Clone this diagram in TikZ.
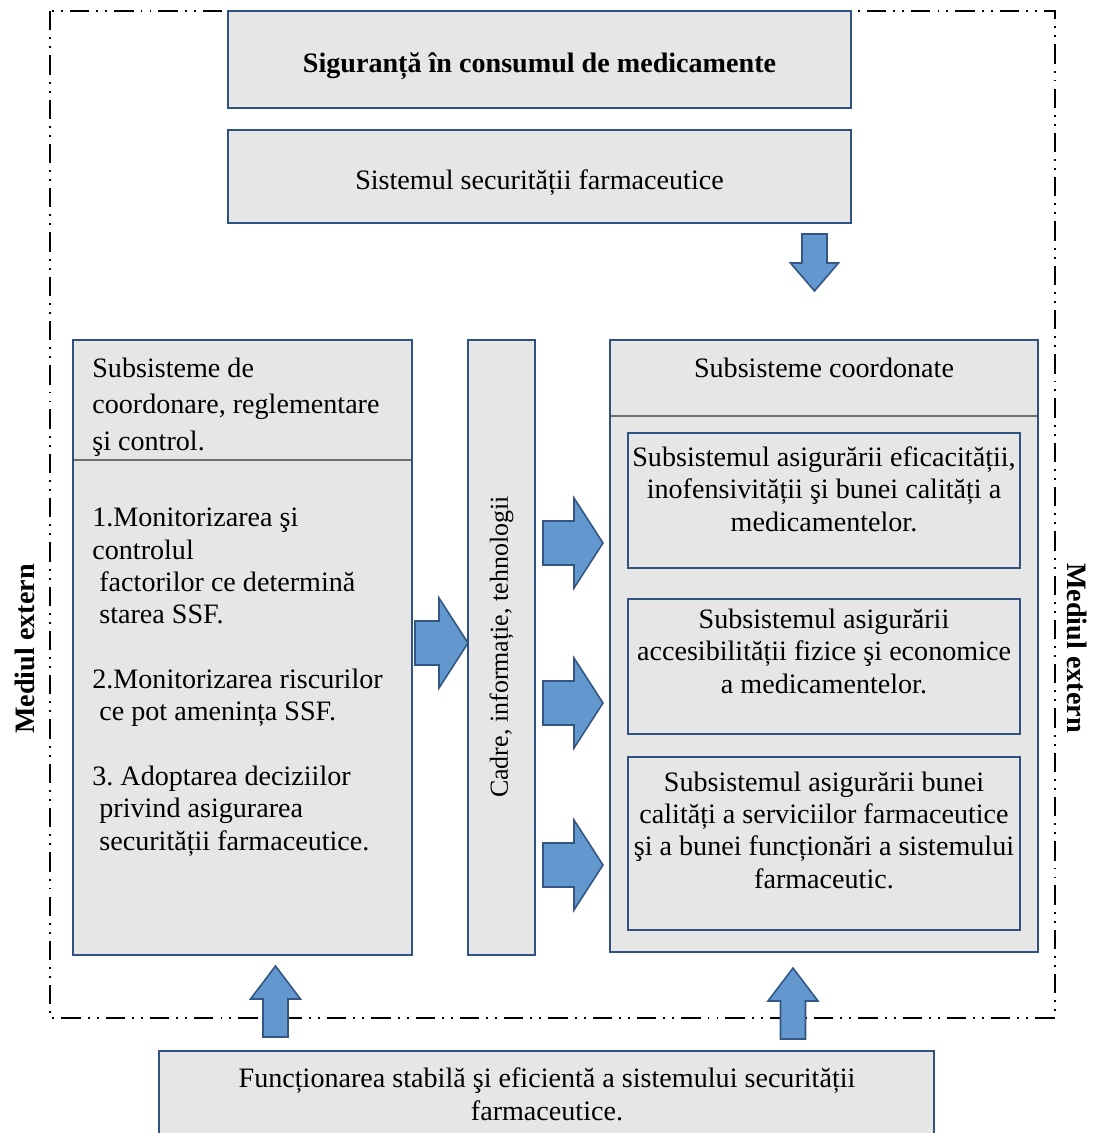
\documentclass[tikz,border=0pt]{standalone}
\usepackage{fontspec}
\setmainfont{Liberation Serif}
\usetikzlibrary{calc}
\frenchspacing
\definecolor{boxblue}{RGB}{47,82,128}
\definecolor{boxgray}{RGB}{230,230,230}
\definecolor{arrowblue}{RGB}{98,152,206}
\definecolor{arrowline}{RGB}{52,86,132}
\definecolor{sepgray}{RGB}{110,110,110}
\tikzset{
	box/.style={draw=boxblue, fill=boxgray, line width=1.2pt},
	fat/.style={draw=arrowline, fill=arrowblue, line width=0.9pt, line join=miter},
	txt/.style={font=\fontsize{16}{18.4}\selectfont, inner sep=0pt, anchor=base, align=center},
	frame/.style={line width=1.2pt, dash pattern=on 11pt off 4pt on 1.1pt off 4pt on 1.1pt off 4pt}
}
% block arrows: (left end, centre y, length), (tip), (top centre)
\def\fatright(#1,#2,#3){\draw[fat] (#1,#2-22) -- ++(#3-29,0) -- ++(0,-23) -- ++(29,45) -- ++(-29,45) -- ++(0,-23) -- ++(-#3+29,0) -- cycle;}
\def\fatup(#1,#2){\draw[fat] (#1,#2) -- ++(25,33) -- ++(-12.5,0) -- ++(0,38) -- ++(-25,0) -- ++(0,-38) -- ++(-12.5,0) -- cycle;}
\def\fatdown(#1,#2){\draw[fat] (#1-12.5,#2) -- ++(25,0) -- ++(0,29) -- ++(11.5,0) -- ++(-24,28) -- ++(-24,-28) -- ++(11.5,0) -- cycle;}

\begin{document}
\begin{tikzpicture}[x=0.02cm, y=-0.02cm]
			%%%%% START %%%%%
			\useasboundingbox (0, 0) rectangle (1095, 1133);
			
			\draw[frame] (50, 11) rectangle (1055, 1018);
			\node[txt, font=\fontsize{16}{18.4}\selectfont\bfseries, rotate=90, anchor=center] (extleft) at (25, 649) {Mediul extern};
			\node[txt, font=\fontsize{16}{18.4}\selectfont\bfseries, rotate=-90, anchor=center] (extright) at (1077, 648) {Mediul extern};
			
			\draw[box] (228, 11) rectangle (851, 108);
			\node[txt, font=\fontsize{16}{18.4}\selectfont\bfseries] (title) at (539.5, 72) {Siguranță în consumul de medicamente};
			
			\draw[box] (228, 130) rectangle (851, 223);
			\node[txt] (ssf) at (539.5, 189) {Sistemul securității farmaceutice};
			\fatdown(814.5, 234);
			
			% left column (base = last line)
			\draw[box] (73, 340) rectangle (412, 955);
			\draw[sepgray, line width=0.8pt] (74, 460) -- (411, 460);
			\node[txt, font=\fontsize{16}{20.7}\selectfont, align=left, anchor=base west] (coord) at (92, 450) {Subsisteme de\\coordonare, reglementare\\şi control.};
			\node[txt, align=left, anchor=base west] (tasks) at (92, 850) {1.Monitorizarea şi\\controlul\\\hspace*{0.25em}factorilor ce determină\\\hspace*{0.25em}starea SSF.\\[18.4pt]2.Monitorizarea riscurilor\\\hspace*{0.25em}ce pot amenința SSF.\\[18.4pt]3. Adoptarea deciziilor\\\hspace*{0.25em}privind asigurarea\\\hspace*{0.25em}securității farmaceutice.};
			
			% middle column
			\fatright(415, 643, 53);
			\draw[box] (468, 340) rectangle (535, 955);
			\node[txt, font=\fontsize{14.8}{17}\selectfont, rotate=90, anchor=center] (cadre) at (501.5, 647) {Cadre, informație, tehnologii};
			\fatright(543, 543, 60);
			\fatright(543, 703, 60);
			\fatright(543, 865, 60);
			
			% right column
			\draw[box] (610, 340) rectangle (1038, 952);
			\draw[sepgray, line width=0.8pt] (611, 416) -- (1037, 416);
			\node[txt] (coordonate) at (824, 377) {Subsisteme coordonate};
			
			\draw[box] (628, 433) rectangle (1020, 568);
			\node[txt] (eficacitate) at (824, 531) {Subsistemul asigurării eficacității,\\inofensivității şi bunei calități a\\medicamentelor.};
			
			\draw[box] (628, 599) rectangle (1020, 734);
			\node[txt] (accesibilitate) at (824, 693) {Subsistemul asigurării\\accesibilității fizice şi economice\\a medicamentelor.};
			
			\draw[box] (628, 757) rectangle (1020, 930);
			\node[txt] (calitate) at (824, 888) {Subsistemul asigurării bunei\\calități a serviciilor farmaceutice\\şi a bunei funcționări a sistemului\\farmaceutic.};
			
			% bottom
			\fatup(275.5, 966);
			\fatup(793, 968);
			\draw[box] (159, 1051) rectangle (934, 1150);
			\node[txt] (functionare) at (547, 1120) {Funcționarea stabilă şi eficientă a sistemului securității\\farmaceutice.};
			
			%%%%% END %%%%%
		\end{tikzpicture}
\end{document}
